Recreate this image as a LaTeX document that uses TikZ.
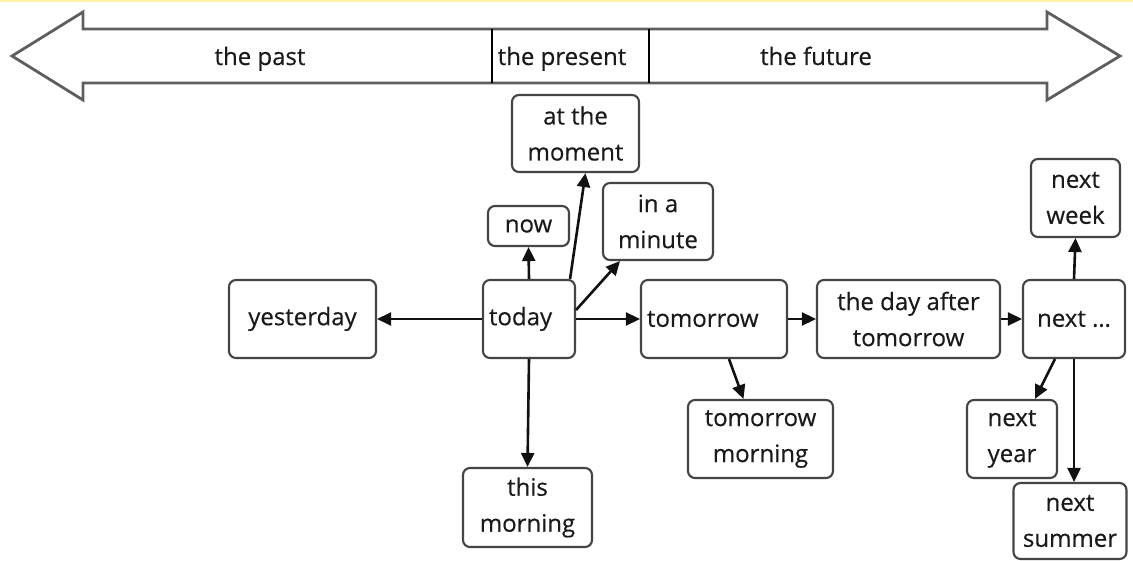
\documentclass[tikz,border=0pt]{standalone}
\usepackage{fontspec}
\setmainfont{Open Sans}[FakeBold=0.4]
\usetikzlibrary{arrows.meta}
\definecolor{txt}{HTML}{1A1A1A}
\definecolor{boxline}{HTML}{444444}
\definecolor{arrline}{HTML}{111111}
\definecolor{bigline}{HTML}{5E5E5E}
\definecolor{topband}{HTML}{FFF2A8}
\tikzset{
  every node/.style={text=txt, font=\fontsize{24}{36}\selectfont},
  box/.style={draw=boxline, line width=2.1pt, rounded corners=7pt, fill=white, align=center, inner sep=0pt},
  lbox/.style={box, align=left, inner xsep=6pt},
  conn/.style={draw=arrline, line width=2.6pt, -{Triangle[length=14pt,width=13pt]}},
  lbl/.style={anchor=base, inner sep=0pt},
}
\begin{document}
\begin{tikzpicture}[x=1pt,y=-1pt]
\useasboundingbox (0,0) rectangle (1133,561);
\fill[white] (0,0) rectangle (1133,561);
\fill[topband] (0,0) rectangle (1133,2.5);
% big double arrow
\draw[bigline, line width=2.8pt, line join=miter]
  (12,56) -- (83,12) -- (83,29) -- (1047,29) -- (1047,12) -- (1120,56)
  -- (1047,100) -- (1047,83) -- (83,83) -- (83,100) -- cycle;
\draw[black, line width=1.5pt] (492,29) -- (492,83);
\draw[black, line width=1.5pt] (649,29) -- (649,83);
\node[lbl] (past) at (260,65) {the past};
\node[lbl] (present) at (562,65) {the present};
\node[lbl] (future) at (816,65) {the future};
% boxes
\node[box, minimum width=127pt, minimum height=77pt] (moment) at (575.5,133.5) {at the\\moment};
\node[box, minimum width=81pt, minimum height=40pt] (now) at (528.5,226) {now};
\node[box, minimum width=110pt, minimum height=77pt] (minute) at (658,221.5) {in a\\minute};
\node[box, minimum width=147pt, minimum height=78pt] (yest) at (302.5,319) {yesterday};
\node[lbox, text width=80pt, minimum height=78pt] (today) at (529,319) {today};
\node[lbox, text width=134pt, minimum height=78pt] (tomorrow) at (714,319) {tomorrow};
\node[box, minimum width=183pt, minimum height=78pt] (dayafter) at (908.5,319) {the day after\\tomorrow};
\node[box, minimum width=102pt, minimum height=78pt] (next) at (1074,319) {next \dots};
\node[box, minimum width=89pt, minimum height=78pt] (week) at (1075.5,198) {next\\week};
\node[box, minimum width=145pt, minimum height=78pt] (tmorning) at (760.5,439) {tomorrow\\morning};
\node[box, minimum width=129pt, minimum height=79pt] (thismorning) at (527.5,507.5) {this\\morning};
\node[box, minimum width=90pt, minimum height=78pt] (year) at (1012,439) {next\\year};
\node[box, minimum width=113pt, minimum height=76pt] (summer) at (1070,521) {next\\summer};
% connectors
\draw[conn] (today.west) -- (yest.east);
\draw[conn] (today.east) -- (tomorrow.west);
\draw[conn] (today.south) -- (thismorning.north);
\draw[conn] (today.north) -- (now.south);
\draw[conn] ([xshift=-6pt]today.north east) -- ([xshift=10pt]moment.south);
\draw[conn] ([yshift=9pt]today.east) -- ([xshift=-38pt]minute.south);
\draw[conn] ([xshift=15pt]tomorrow.south) -- ([xshift=-17pt]tmorning.north);
\draw[conn] (tomorrow.east) -- (dayafter.west);
\draw[conn] (dayafter.east) -- (next.west);
\draw[conn] (next.north) -- (week.south);
\draw[conn] (next.south) -- (summer.north -| next.south);
\draw[conn] ([xshift=-19pt]next.south) -- ([xshift=23pt]year.north);
\end{tikzpicture}
\end{document}
